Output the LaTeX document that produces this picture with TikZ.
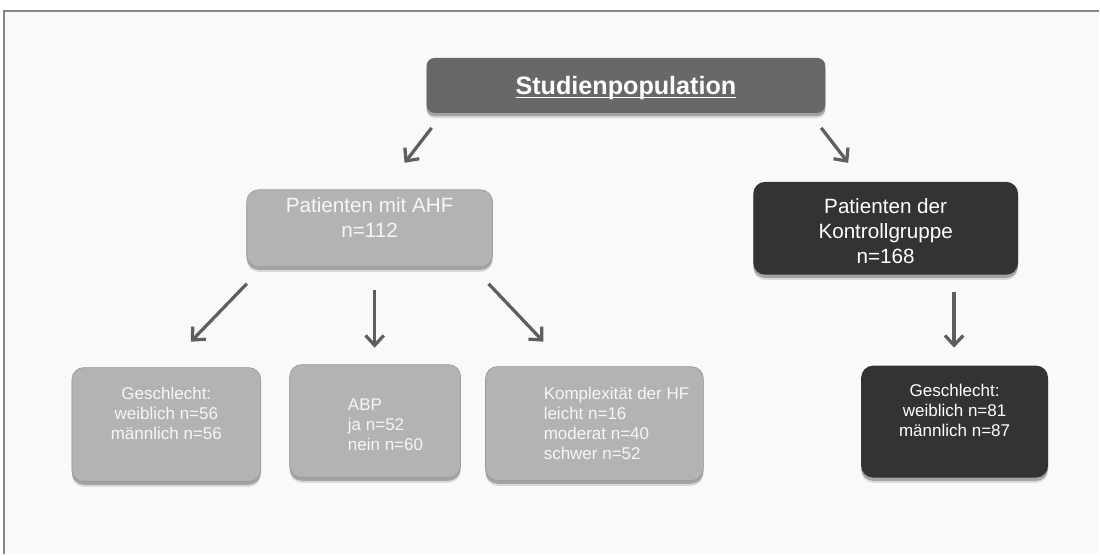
\documentclass[tikz,border=0pt]{standalone}
\usepackage{fontspec}
\setmainfont{Liberation Sans}
\usetikzlibrary{arrows.meta, shadows, positioning}

\definecolor{panelbg}{HTML}{F9F9F9}
\definecolor{framegray}{HTML}{858585}
\definecolor{popfill}{HTML}{686868}
\definecolor{ahffill}{HTML}{B3B3B3}
\definecolor{ahfedge}{HTML}{9A9A9A}
\definecolor{ctrlfill}{HTML}{333333}
\definecolor{arrowgray}{HTML}{5E5E5E}
\definecolor{boxtext}{HTML}{F6F6F6}

\newcommand{\titleline}[1]{\setbox0\hbox{#1}\rlap{\rule[-2.6pt]{\wd0}{1.1pt}}\box0}

\begin{document}
\begin{tikzpicture}[
        x=0.025cm, y=-0.025cm,
        box/.style={rectangle, inner sep=0pt, rounded corners=0.3cm,
            drop shadow={shadow xshift=0pt, shadow yshift=-0.13cm, opacity=0.12, fill=black},
            drop shadow={shadow xshift=0pt, shadow yshift=-0.08cm, opacity=0.25, fill=black}},
        popbox/.style={box, fill=popfill, rounded corners=0.2cm},
        ahfbox/.style={box, fill=ahffill, draw=ahfedge, line width=0.5pt},
        ctrlbox/.style={box, fill=ctrlfill},
        txt/.style={text=boxtext, inner sep=0pt, align=center},
        bigtxt/.style={txt, font=\fontsize{14.7}{17.8}\selectfont},
        smalltxt/.style={txt, font=\fontsize{12.1}{14.2}\selectfont},
        arrow/.style={-{Straight Barb[length=7pt, width=13pt]}, line width=2.3pt, draw=arrowgray}
    ]
    % frame
    \fill[white] (0,0) rectangle (1100,555);
    \fill[panelbg] (4,11) rectangle (1100,555);
    \draw[framegray, line width=1.5pt] (4,555) -- (4,11) -- (1100,11);

    % boxes
    \node[popbox, minimum width=9.975cm, minimum height=1.375cm] (pop) at (626.5,85.5) {};
    \node[ahfbox, minimum width=6.15cm, minimum height=1.925cm] (ahf) at (370,228.5) {};
    \node[ctrlbox, minimum width=6.625cm, minimum height=2.325cm] (ctrl) at (886.5,228.5) {};
    \node[ahfbox, minimum width=4.725cm, minimum height=2.85cm] (sexa) at (166.5,425) {};
    \node[ahfbox, minimum width=4.275cm, minimum height=2.825cm] (abp) at (375.5,421.5) {};
    \node[ahfbox, minimum width=5.45cm, minimum height=2.85cm] (hf) at (595,424) {};
    \node[ctrlbox, minimum width=4.675cm, minimum height=2.8cm] (sexb) at (955.5,422) {};

    % texts
    \node[txt, font=\fontsize{17.9}{21}\selectfont\bfseries, text=white] (poptxt) at (626.5,88) {\titleline{Studienpopulation}};
    \node[bigtxt] (ahftxt) at (370,217.5) {Patienten mit AHF\\n=112};
    \node[bigtxt, text=white] (ctrltxt) at (886.5,231.5) {Patienten der\\Kontrollgruppe\\n=168};
    \node[smalltxt] (sexatxt) at (166.5,414) {Geschlecht:\\weiblich n=56\\männlich n=56};
    \node[smalltxt, align=left, anchor=west] (abptxt) at (348,425) {ABP\\ja n=52\\nein n=60};
    \node[smalltxt, align=left, anchor=west] (hftxt) at (544,424) {Komplexität der HF\\leicht n=16\\moderat n=40\\schwer n=52};
    \node[smalltxt, text=white] (sexbtxt) at (955.5,411) {Geschlecht:\\weiblich n=81\\männlich n=87};

    % arrow ends
    \coordinate (a1s) at (432,128);  \coordinate (a1e) at (405,163);
    \coordinate (a2s) at (822,128);  \coordinate (a2e) at (849,163);
    \coordinate (a3s) at (247,284);  \coordinate (a3e) at (191,342);
    \coordinate (a4s) at (375,290);  \coordinate (a4e) at (375,348);
    \coordinate (a5s) at (489,284);  \coordinate (a5e) at (544,342);
    \coordinate (a6s) at (955,292);  \coordinate (a6e) at (955,348);

    \foreach \i in {1,...,6}
        \draw[arrow] (a\i s) -- (a\i e);
\end{tikzpicture}
\end{document}
